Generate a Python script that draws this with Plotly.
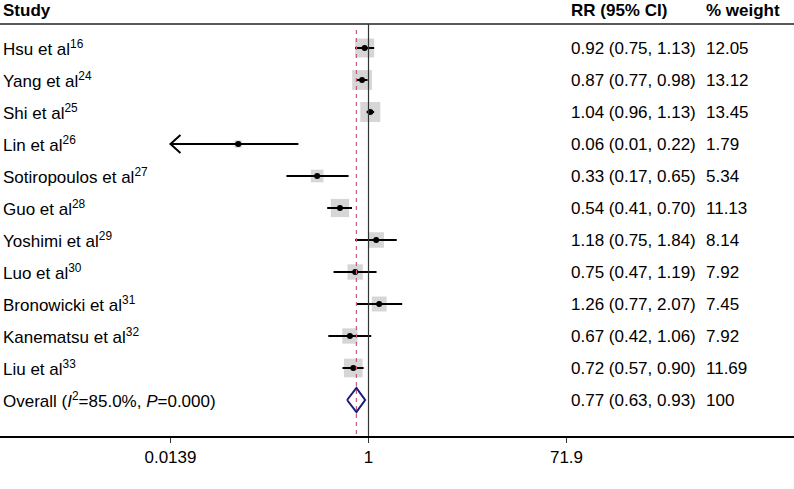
import math
import plotly.graph_objects as go

studies = ["Hsu et al", "Yang et al", "Shi et al", "Lin et al", "Sotiropoulos et al",
           "Guo et al", "Yoshimi et al", "Luo et al", "Bronowicki et al",
           "Kanematsu et al", "Liu et al"]
refs = ["16", "24", "25", "26", "27", "28", "29", "30", "31", "32", "33"]
rr = [0.92, 0.87, 1.04, 0.06, 0.33, 0.54, 1.18, 0.75, 1.26, 0.67, 0.72]
ci_low = [0.75, 0.77, 0.96, 0.01, 0.17, 0.41, 0.75, 0.47, 0.77, 0.42, 0.57]
ci_high = [1.13, 0.98, 1.13, 0.22, 0.65, 0.70, 1.84, 1.19, 2.07, 1.06, 0.90]
weights = [12.05, 13.12, 13.45, 1.79, 5.34, 11.13, 8.14, 7.92, 7.45, 7.92, 11.69]
overall_rr, overall_low, overall_high = 0.77, 0.63, 0.93
overall_label = "Overall (<i>I</i><sup>2</sup>=85.0%, <i>P</i>=0.000)"
overall_weight = "100"
tick_vals = [0.0139, 1, 71.9]
tick_text = ["0.0139", "1", "71.9"]

FONT = "Liberation Sans, Arial, sans-serif"
W, H = 794, 489
AXIS_PX = 436        # pixel row of the x axis line
ROW0_PX = 48         # pixel row of first study
ROW_STEP = 32
BODY_SIZE = 17
HEAD_SIZE = 17
x_min = tick_vals[0]

fig = go.Figure()
n = len(studies)
rows = [-i for i in range(n)]
overall_row = -n

# weight boxes
sizes = [20 * math.sqrt(w / max(weights)) for w in weights]
fig.add_trace(go.Scatter(x=rr, y=rows, mode="markers",
                         marker=dict(symbol="square", size=sizes, color="#c4c4c4",
                                     line=dict(width=0)),
                         hoverinfo="skip", showlegend=False))
# CI lines (clipped at axis minimum with an arrow)
for i in range(n):
    lo = max(ci_low[i], x_min)
    fig.add_trace(go.Scatter(x=[lo, ci_high[i]], y=[rows[i], rows[i]], mode="lines",
                             line=dict(color="black", width=2), hoverinfo="skip",
                             showlegend=False))
    if ci_low[i] < x_min:
        k = 1.24
        fig.add_trace(go.Scatter(x=[x_min * k, x_min, x_min * k],
                                 y=[rows[i] + 0.28, rows[i], rows[i] - 0.28],
                                 mode="lines", line=dict(color="black", width=2),
                                 hoverinfo="skip", showlegend=False))
fig.add_trace(go.Scatter(x=rr, y=rows, mode="markers",
                         marker=dict(symbol="circle", size=6, color="black"),
                         hoverinfo="skip", showlegend=False))

# overall diamond
dh = 0.375
fig.add_trace(go.Scatter(x=[overall_low, overall_rr, overall_high, overall_rr, overall_low],
                         y=[overall_row, overall_row + dh, overall_row, overall_row - dh, overall_row],
                         mode="lines", line=dict(color="#1a1a80", width=2),
                         hoverinfo="skip", showlegend=False))

def py(px):
    return (ROW0_PX - px) / ROW_STEP

y_top = py(0)
y_bot = py(AXIS_PX)
header_line_y = py(24)

shapes = [
    dict(type="line", xref="paper", yref="y", x0=0, x1=1, y0=header_line_y, y1=header_line_y,
         line=dict(color="#222", width=1.5)),
    dict(type="line", xref="x", yref="y", x0=1, x1=1, y0=header_line_y, y1=y_bot,
         line=dict(color="#333", width=1.2)),
    dict(type="line", xref="x", yref="y", x0=overall_rr, x1=overall_rr,
         y0=py(30), y1=y_bot,
         line=dict(color="#c0607a", width=1.2, dash="4px,4px")),
]

COL_STUDY, COL_RR, COL_W = 1 / W, 569 / W, 704 / W
ann = []
hdr_y = py(10)
for txt, xp in [("Study", COL_STUDY), ("RR (95% CI)", COL_RR), ("% weight", COL_W)]:
    ann.append(dict(text="<b>" + txt + "</b>", x=xp, y=hdr_y, xref="paper", yref="y",
                    xanchor="left", yanchor="middle", showarrow=False,
                    font=dict(size=HEAD_SIZE, family=FONT, color="black")))

def body(text, xp, y):
    ann.append(dict(text=text, x=xp, y=y, xref="paper", yref="y", xanchor="left",
                    yanchor="middle", showarrow=False,
                    font=dict(size=BODY_SIZE, family=FONT, color="black")))

for i in range(n):
    body(f"{studies[i]}<sup>{refs[i]}</sup>", COL_STUDY, rows[i])
    body(f"{rr[i]:.2f} ({ci_low[i]:.2f}, {ci_high[i]:.2f})", COL_RR, rows[i])
    body(f"{weights[i]:.2f}", COL_W, rows[i])
body(overall_label, COL_STUDY, overall_row)
body(f"{overall_rr:.2f} ({overall_low:.2f}, {overall_high:.2f})", COL_RR, overall_row)
body(overall_weight, COL_W, overall_row)

px_per_dec = (567 - 171) / (math.log10(tick_vals[2]) - math.log10(tick_vals[0]))
x0_log = -368.5 / px_per_dec
x1_log = (W - 368.5) / px_per_dec

fig.update_layout(
    width=W, height=H, margin=dict(l=0, r=0, t=0, b=H - AXIS_PX),
    paper_bgcolor="white", plot_bgcolor="white",
    shapes=shapes, annotations=ann,
    xaxis=dict(type="log", range=[x0_log, x1_log], tickvals=tick_vals, ticktext=tick_text,
               ticks="outside", ticklen=5, tickwidth=1, tickcolor="#333",
               showline=True, linecolor="black", linewidth=2, showgrid=False,
               zeroline=False, fixedrange=True,
               tickfont=dict(size=BODY_SIZE, family=FONT, color="black")),
    yaxis=dict(range=[y_bot, y_top], visible=False, showgrid=False, zeroline=False,
               fixedrange=True),
)
fig.write_html("out.html", config={"displayModeBar": False},
               post_script="document.body.style.margin='0';document.body.style.overflow='hidden';")
